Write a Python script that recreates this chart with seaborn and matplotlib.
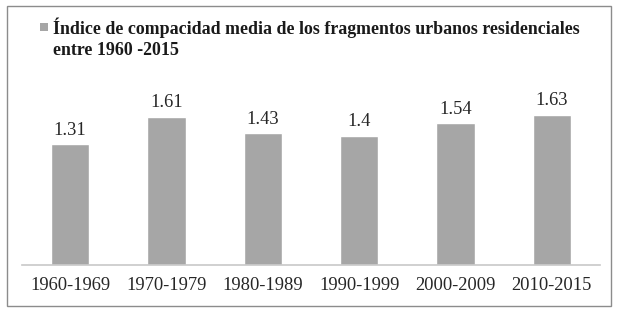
import matplotlib
matplotlib.use("Agg")
import matplotlib.pyplot as plt
import seaborn as sns
import pandas as pd
from matplotlib.patches import Rectangle

periods = ["1960-1969", "1970-1979", "1980-1989", "1990-1999", "2000-2009", "2010-2015"]
values = [1.31, 1.61, 1.43, 1.4, 1.54, 1.63]
value_labels = ["1.31", "1.61", "1.43", "1.4", "1.54", "1.63"]
legend_text = "Índice de compacidad media de los fragmentos urbanos residenciales\nentre 1960 -2015"

sns.set_theme(style="white")
plt.rcParams['font.family'] = ['Liberation Serif', 'DejaVu Serif']

df = pd.DataFrame({"periodo": periods, "valor": values})
bar_color = "#a6a6a6"

fig = plt.figure(figsize=(6.17, 3.11), dpi=100)
ax = fig.add_axes([22/617, 1 - 265/311, 578/617, 175/311])
sns.barplot(data=df, x="periodo", y="valor", color=bar_color, width=0.4,
            saturation=1, ax=ax)
ax.set_ylim(0, 1.9)
ax.set_xlim(-0.5, 5.5)
for c in ax.containers:
    ax.bar_label(c, labels=value_labels, padding=4, fontsize=13.3, color="#262626")
ax.set_xlabel("")
ax.set_ylabel("")
ax.set_yticks([])
ax.tick_params(axis="x", length=0, labelsize=13.3, pad=9, colors="#262626")
for s in ["top", "left", "right"]:
    ax.spines[s].set_visible(False)
ax.spines["bottom"].set_color("#c8c8c8")
ax.spines["bottom"].set_linewidth(1.2)

# legend
fig.patches.append(Rectangle((40/617, 1 - 31/311), 8/617, 8/311, transform=fig.transFigure,
                             facecolor=bar_color, edgecolor="none"))
fig.text(53/617, 1 - 17/311, legend_text, ha="left", va="top", fontsize=12.9,
         fontweight="bold", color="#1a1a1a", linespacing=1.32)

# border
fig.patches.append(Rectangle((7/617, 5/311), 604/617, 300/311, transform=fig.transFigure,
                             facecolor="none", edgecolor="#8c8c8c", linewidth=1))

fig.savefig("out.png", dpi=100)
